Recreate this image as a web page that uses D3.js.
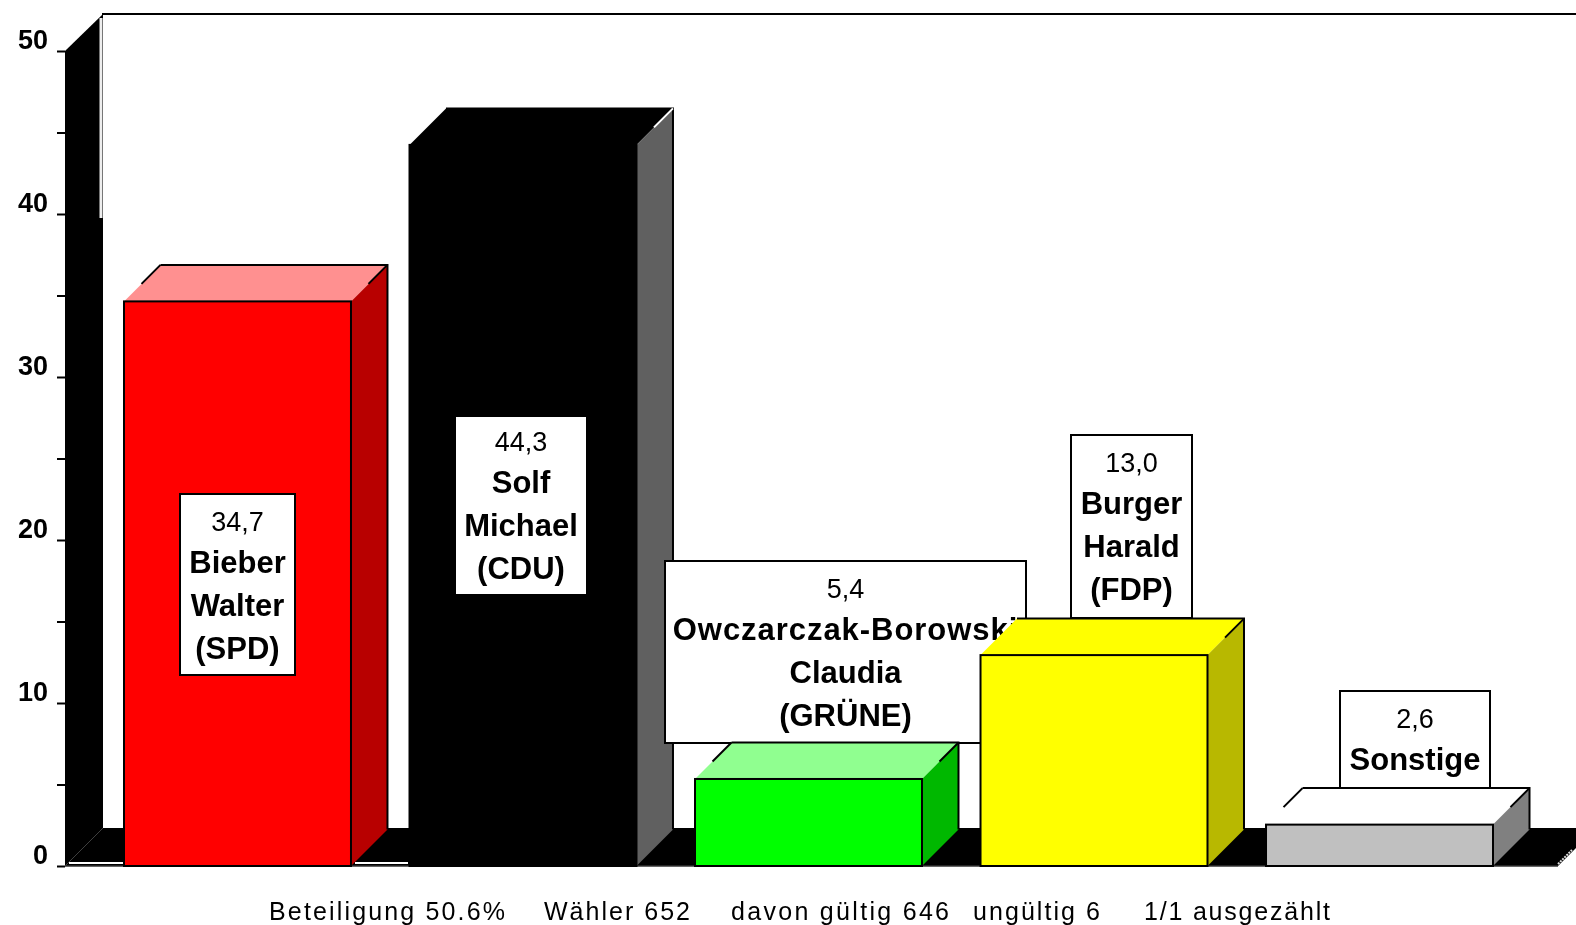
<!DOCTYPE html>
<html><head><meta charset="utf-8">
<script src="https://cdnjs.cloudflare.com/ajax/libs/d3/7.8.5/d3.min.js"></script>
<style>html,body{margin:0;padding:0;background:#fff;overflow:hidden}svg{display:block;filter:blur(0.5px)}
text{font-family:"Liberation Sans",Arial,sans-serif;fill:#000}</style></head><body>
<svg id="c" width="1576" height="925"></svg>
<script>
const categories=["SPD","CDU","GRÜNE","FDP","Sonstige"];
const values=[34.7,44.3,5.4,13.0,2.6];
const valueLabels=["34,7","44,3","5,4","13,0","2,6"];
const nameLines=[["Bieber","Walter","(SPD)"],["Solf","Michael","(CDU)"],["Owczarczak-Borowski","Claudia","(GRÜNE)"],["Burger","Harald","(FDP)"],["Sonstige"]];
const frontColors=["#ff0000","#000000","#00ff00","#ffff00","#c0c0c0"];
const sideColors=["#b80000","#606060","#00b800","#b8b800","#808080"];
const topColors=["#ff9090","#000000","#90ff90","#ffff00","#ffffff"];
const yTicks=[0,5,10,15,20,25,30,35,40,45,50];
const footerTexts=["Beteiligung 50.6%","Wähler 652","davon gültig 646","ungültig 6","1/1 ausgezählt"];
// layout (not data)
const boxes=[[180,494,115,181],[455,416,132,179],[665,561,361,182],[1071,435,121,183],[1340,691,150,98]];
const textShift=[0,-2,0,0,0];
const footerX=[[269,505],[544,690],[731,949],[973,1100],[1144,1330]];
const depth=36.5, y0=866, y50=51, topNudge=1;
const svg=d3.select("#c");
const y=d3.scaleLinear().domain([0,50]).range([y0,y50]);
const x=d3.scaleBand().domain(categories).range([124,1493]).paddingInner(0.205).paddingOuter(0);
const wallL=65,wallR=wallL+38,backB=828,backT=14;

// back wall + floor
svg.append("path").attr("d",`M${wallL},${y(50)}L${wallR},${backT}V${backB}L${wallL},${y0}Z`).attr("fill","#000");
svg.append("path").attr("d",`M${wallL},${y0}L${wallR},${backB}H1576V848L1558,${y0}Z`).attr("fill","#000");
svg.append("line").attr("x1",wallR-1).attr("x2",1576).attr("y1",backT).attr("y2",backT).attr("stroke","#000").attr("stroke-width",2);
svg.append("line").attr("x1",wallR-2).attr("x2",wallR-2).attr("y1",backT+4).attr("y2",218).attr("stroke","#eee").attr("stroke-width",3);
svg.append("line").attr("x1",69).attr("x2",123).attr("y1",y0-3).attr("y2",y0-3).attr("stroke","#fff").attr("stroke-width",2);
svg.append("line").attr("x1",355).attr("x2",408).attr("y1",y0-3).attr("y2",y0-3).attr("stroke","#fff").attr("stroke-width",2);
svg.append("line").attr("x1",1558).attr("y1",y0-2).attr("x2",1572).attr("y2",y0-16).attr("stroke","#ddd").attr("stroke-width",2).attr("stroke-dasharray","2 1");
svg.append("line").attr("x1",wallL).attr("x2",1558).attr("y1",y0).attr("y2",y0).attr("stroke","#333").attr("stroke-width",1.5);

// axis
const axis=d3.axisLeft(y).tickValues(yTicks).tickSize(8).tickPadding(9).tickFormat(d=>d%10?"":d);
const ag=svg.append("g").attr("transform",`translate(${wallL},0)`).call(axis);
ag.select(".domain").remove();
ag.selectAll("line").attr("stroke","#000").attr("stroke-width",2);
ag.selectAll("text").attr("font-size",27).attr("font-weight","bold").attr("dy","-0.08em").style("font-family",'"Liberation Sans",Arial,sans-serif');

function bar(i){
  const c=categories[i],L=x(c),R=L+x.bandwidth(),T=y(values[i])+topNudge,B=y0,g=svg.append("g");
  g.append("path").attr("d",`M${L},${T}L${L+depth},${T-depth}H${R+depth}L${R},${T}Z`).attr("fill",topColors[i]);
  g.append("path").attr("d",`M${R},${T}L${R+depth},${T-depth}V${B-depth}L${R},${B}Z`).attr("fill",sideColors[i]);
  g.append("path").attr("d",`M${L+depth},${T-depth}H${R+depth}V${B-depth}`).attr("fill","none").attr("stroke","#000").attr("stroke-width",2);
  g.append("rect").attr("x",L).attr("y",T).attr("width",R-L).attr("height",B-T).attr("fill",frontColors[i]).attr("stroke","#000").attr("stroke-width",2);
  if(i===0||i===2||i===4) g.append("line").attr("x1",L+depth).attr("y1",T-depth).attr("x2",L+depth-19).attr("y2",T-depth+19).attr("stroke","#000").attr("stroke-width",2);
  g.append("line").attr("x1",R+depth).attr("y1",T-depth).attr("x2",R+depth-19).attr("y2",T-depth+19).attr("stroke",i===1?"#fff":"#000").attr("stroke-width",2);
}
function label(i){
  const [bx,by,bw,bh]=boxes[i],cx=bx+bw/2,g=svg.append("g");
  g.append("rect").attr("x",bx).attr("y",by).attr("width",bw).attr("height",bh).attr("fill","#fff").attr("stroke","#000").attr("stroke-width",2);
  g.append("text").attr("x",cx).attr("y",by+37+textShift[i]).attr("text-anchor","middle").attr("font-size",27).text(valueLabels[i]);
  nameLines[i].forEach((t,k)=>g.append("text").attr("x",cx).attr("y",by+79+textShift[i]+k*43).attr("text-anchor","middle").attr("font-size",31).attr("font-weight","bold")
    .attr("letter-spacing",t.length>12?0.95:0).text(t));
}
bar(0);bar(1);
[0,1,2,3,4].forEach(label);
bar(2);bar(3);bar(4);

// footer
footerTexts.forEach((t,i)=>svg.append("text").attr("x",footerX[i][0]).attr("y",920).attr("font-size",25)
  .attr("textLength",footerX[i][1]-footerX[i][0]).attr("lengthAdjust","spacing").text(t));
</script></body></html>
